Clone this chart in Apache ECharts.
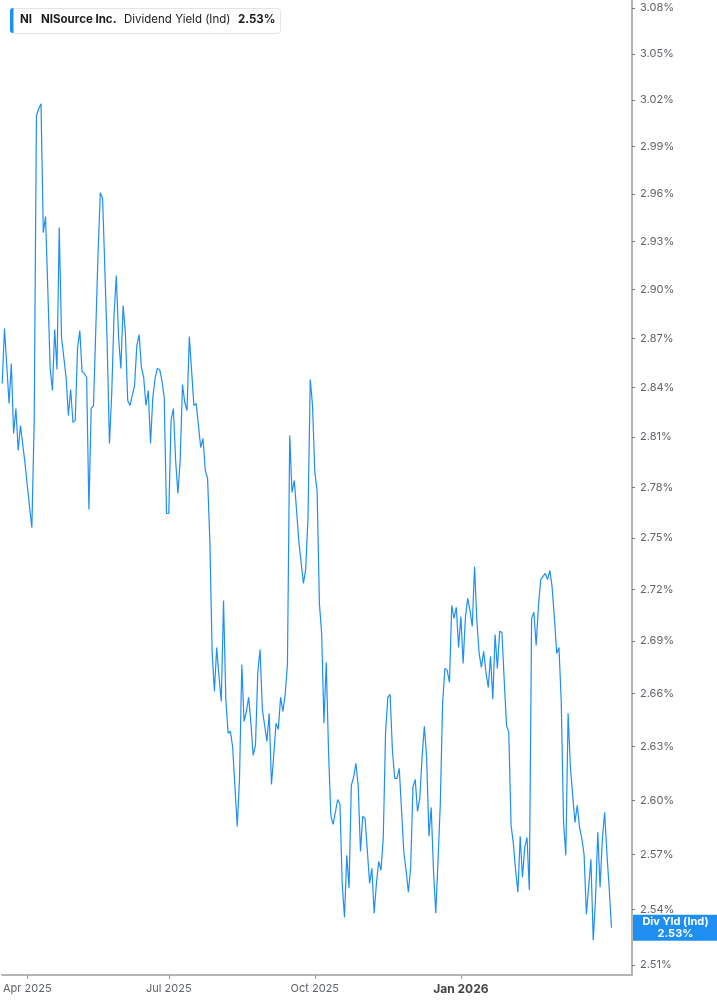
<!DOCTYPE html>
<html>
<head>
<meta charset="utf-8">
<script src="https://cdn.jsdelivr.net/npm/echarts@6/dist/echarts.min.js"></script>
<style>
html,body{margin:0;padding:0;background:#fff;}
#chart{width:717px;height:1005px;}
</style>
</head>
<body>
<div id="chart"></div>
<script>
// ---- data ----
const ticker = 'NI';
const companyName = 'NISource Inc.';
const metricName = 'Dividend Yield (Ind)';
const endLabelName = 'Div Yld (Ind)';
const firstDate = '2025-03-17';
const lastAxisDate = '2026-04-22';
const marketHolidays = ['2025-04-18','2025-05-26','2025-06-19','2025-07-04','2025-09-01','2025-11-27','2025-12-25','2026-01-01','2026-01-19','2026-02-16','2026-04-03'];
const tickDates = ['2025-04-01','2025-07-01','2025-10-01','2026-01-02'];
const tickLabels = ['Apr 2025','Jul 2025','Oct 2025','Jan 2026'];
const yTickValues = [2.51,2.54,2.57,2.60,2.63,2.66,2.69,2.72,2.75,2.78,2.81,2.84,2.87,2.90,2.93,2.96,2.99,3.02,3.05,3.08];
const yieldValues = [
2.8423,2.8759,2.8533,2.8302,2.8545,2.8121,2.8272,2.8019,2.8169,2.8055,
2.7942,2.7810,2.7680,2.7561,2.8182,3.0099,3.0144,3.0176,2.9356,2.9457,
2.8994,2.8521,2.8381,2.8753,2.8509,2.9387,2.8704,2.8582,2.8460,2.8230,
2.8387,2.8188,2.8200,2.8637,2.8747,2.8496,2.8484,2.8460,2.7668,2.8272,
2.8290,2.8747,2.9225,2.9608,2.9570,2.9118,2.8667,2.8061,2.8363,2.8840,
2.9087,2.8704,2.8515,2.8901,2.8728,2.8320,2.8290,2.8351,2.8411,2.8655,
2.8722,2.8521,2.8460,2.8290,2.8381,2.8061,2.8338,2.8454,2.8515,2.8509,
2.8441,2.8338,2.7644,2.7644,2.8200,2.8272,2.7960,2.7763,2.7960,2.8417,
2.8308,2.8260,2.8710,2.8502,2.8290,2.8302,2.8169,2.8037,2.8091,2.7900,
2.7852,2.7485,2.6835,2.6612,2.6863,2.6698,2.6555,2.7135,2.6567,2.6375,
2.6386,2.6296,2.6072,2.5855,2.6122,2.6766,2.6442,2.6499,2.6578,2.6431,
2.6251,2.6307,2.6721,2.6852,2.6510,2.6420,2.6329,2.6488,2.6088,2.6251,
2.6431,2.6397,2.6578,2.6499,2.6595,2.6766,2.8109,2.7769,2.7840,2.7662,
2.7479,2.7356,2.7234,2.7316,2.7615,2.8448,2.8290,2.7888,2.7780,2.7118,
2.6944,2.6431,2.6778,2.6279,2.5916,2.5866,2.5933,2.6004,2.5982,2.5542,
2.5357,2.5695,2.5515,2.6083,2.6128,2.6206,2.6083,2.5717,2.5911,2.5899,
2.5723,2.5542,2.5624,2.5379,2.5542,2.5662,2.5613,2.5794,2.6380,2.6578,
2.6595,2.6279,2.6122,2.6122,2.6178,2.5944,2.5712,2.5613,2.5493,2.5630,
2.6072,2.6116,2.5938,2.6010,2.6240,2.6414,2.6240,2.5800,2.5960,2.5613,
2.5379,2.5668,2.5982,2.6544,2.6743,2.6732,2.6663,2.7106,2.7031,2.7095,
2.6863,2.7042,2.6772,2.7037,2.7147,2.7077,2.6985,2.7333,2.7019,2.6829,
2.6749,2.6841,2.6721,2.6635,2.6812,2.6567,2.6938,2.6743,2.6956,2.6950,
2.6675,2.6420,2.6380,2.5861,2.5761,2.5613,2.5493,2.5800,2.5575,2.5739,
2.5794,2.5504,2.7031,2.7066,2.6875,2.7106,2.7257,2.7275,2.7292,2.7257,
2.7310,2.7211,2.7031,2.6829,2.6863,2.6550,2.5877,2.5695,2.6488,2.6184,
2.6027,2.5877,2.5971,2.5850,2.5789,2.5700,2.5374,2.5521,2.5673,2.5233,
2.5450,2.5822,2.5521,2.5783,2.5933,2.5706,2.5515,2.5300
];

// ---- trading-day categories ----
function tradingDays(start, end, holidays) {
  const out = [];
  const d = new Date(start + 'T00:00:00Z');
  const e = new Date(end + 'T00:00:00Z');
  while (d <= e) {
    const s = d.toISOString().slice(0, 10);
    const wd = d.getUTCDay();
    if (wd !== 0 && wd !== 6 && holidays.indexOf(s) < 0) out.push(s);
    d.setUTCDate(d.getUTCDate() + 1);
  }
  return out;
}
const dates = tradingDays(firstDate, lastAxisDate, marketHolidays);
const lastValue = yieldValues[yieldValues.length - 1];
const lineColor = '#1e8ff5';
const font = 'Inter, Roboto, "Noto Sans", sans-serif';

const chart = echarts.init(document.getElementById('chart'), null, {renderer: 'canvas'});
chart.setOption({
  animation: false,
  backgroundColor: '#ffffff',
  textStyle: {fontFamily: font},
  grid: {left: 1, right: 85, top: 0, bottom: 30, containLabel: false},
  xAxis: {
    type: 'category',
    data: dates,
    boundaryGap: false,
    axisLine: {show: true, lineStyle: {color: '#b4b4b4', width: 2}},
    axisTick: {
      show: true, length: 4, lineStyle: {color: '#9a9a9a', width: 1},
      interval: (idx, val) => tickDates.indexOf(val) >= 0
    },
    axisLabel: {
      interval: (idx, val) => tickDates.indexOf(val) >= 0,
      margin: 8,
      fontSize: 11,
      color: '#5f6368',
      fontFamily: font,
      formatter: (val) => {
        const k = tickDates.indexOf(val);
        if (k < 0) return '';
        const t = tickLabels[k];
        return t.indexOf('Jan') === 0 ? '{b|' + t + '}' : t;
      },
      rich: {b: {fontSize: 12, fontWeight: 'bold', color: '#444', fontFamily: font}}
    },
    splitLine: {show: false}
  },
  yAxis: {
    type: 'log',
    logBase: 10,
    position: 'right',
    min: 2.5046,
    max: 3.0853,
    axisLine: {show: true, lineStyle: {color: '#b4b4b4', width: 2}},
    axisTick: {show: true, length: 3, customValues: yTickValues, lineStyle: {color: '#777', width: 1}},
    axisLabel: {
      customValues: yTickValues,
      margin: 8,
      fontSize: 11,
      color: '#5f6368',
      fontFamily: font,
      formatter: (v) => Number(v).toFixed(2) + '%'
    },
    splitLine: {show: false}
  },
  series: [{
    type: 'line',
    data: yieldValues,
    clip: false,
    showSymbol: false,
    symbol: 'none',
    lineStyle: {color: lineColor, width: 1.2},
    itemStyle: {color: lineColor},
    markLine: {
      silent: true,
      symbol: 'none',
      lineStyle: {color: 'rgba(0,0,0,0)', width: 0, type: 'solid'},
      emphasis: {disabled: true},
      data: [{yAxis: lastValue}],
      label: {
        show: true,
        position: 'end',
        distance: 1,
        formatter: '{a|' + endLabelName + '}\n{a|' + lastValue.toFixed(2) + '%}',
        backgroundColor: '#1f8ef1',
        padding: [1, 4, 1, 4],
        rich: {a: {width: 77, align: 'center', color: '#fff', fontWeight: 'bold', fontSize: 11, lineHeight: 12, fontFamily: font}}
      }
    }
  }],
  graphic: [
    {type: 'rect', left: 10, top: 8, shape: {width: 270, height: 25, r: 3}, style: {fill: '#fff', stroke: '#e4e4e4', lineWidth: 1}, z: 10},
    {type: 'rect', left: 10, top: 8, shape: {width: 3.5, height: 25, r: [3, 0, 0, 3]}, style: {fill: lineColor}, z: 11},
    {type: 'text', left: 20, top: 14, style: {text: ticker, fontFamily: font, fontSize: 11.5, fontWeight: 'bold', fill: '#1a1a1a'}, z: 11},
    {type: 'text', left: 41, top: 14, style: {text: companyName, fontFamily: font, fontSize: 11.5, fontWeight: 'bold', fill: '#1a1a1a'}, z: 11},
    {type: 'text', left: 124, top: 14, style: {text: metricName, fontFamily: font, fontSize: 11.5, fill: '#1a1a1a'}, z: 11},
    {type: 'text', left: 238, top: 14, style: {text: lastValue.toFixed(2) + '%', fontFamily: font, fontSize: 11.5, fontWeight: 'bold', fill: '#1a1a1a'}, z: 11}
  ]
});
</script>
</body>
</html>
